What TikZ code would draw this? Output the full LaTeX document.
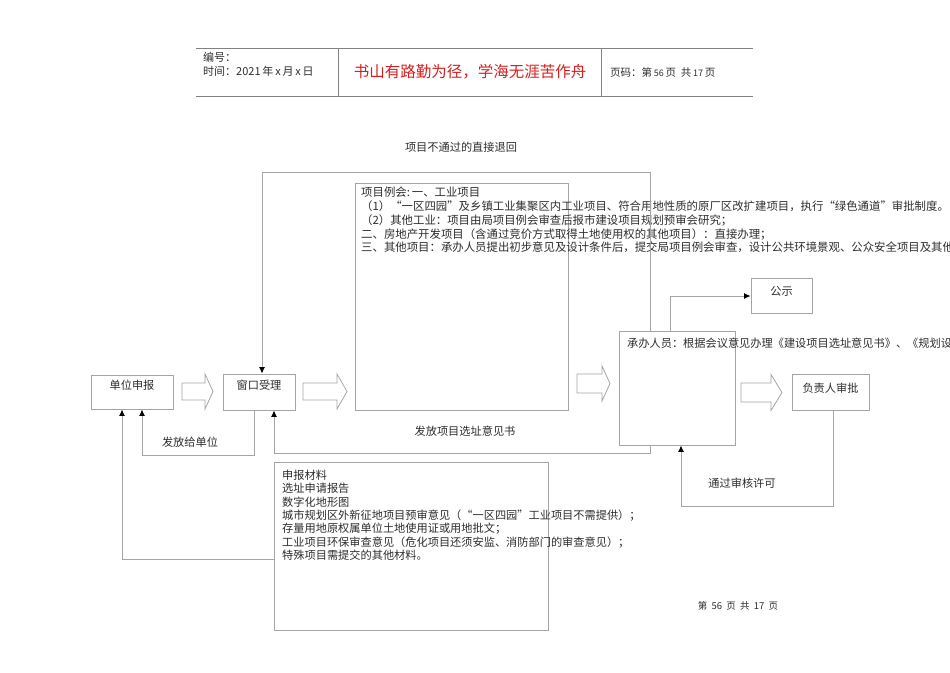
\documentclass[tikz,border=0pt]{standalone}
\usepackage{fontspec}
\setmainfont{Noto Sans CJK SC}
\usetikzlibrary{arrows.meta}
\definecolor{boxgray}{RGB}{165,165,165}
\definecolor{hdrgray}{RGB}{130,130,130}
\definecolor{txtgray}{RGB}{45,45,45}
\definecolor{mottored}{RGB}{215,30,30}
\tikzset{
  box/.style={draw=boxgray, fill=white, line width=0.9pt, inner sep=0pt},
  txt/.style={text=txtgray, font=\fontsize{11.2}{13.3}\selectfont, inner sep=0pt},
  para/.style={txt, anchor=north west, align=left},
  link/.style={draw=boxgray, line width=0.9pt, -{Latex[length=6.5pt,width=6pt,color=black]}},
  hollow/.style={draw=boxgray, fill=white, line width=0.8pt},
  hdr/.style={draw=hdrgray, line width=0.9pt}
}
\begin{document}
\begin{tikzpicture}[x=1pt, y=-1pt]
    \useasboundingbox (0,0) rectangle (950,672);
    \clip (0,0) rectangle (950,672);
    % Header
    \draw[hdr] (196,48) -- (753,48);
    \draw[hdr] (196,96) -- (753,96);
    \draw[hdr] (338,48) -- (338,96);
    \draw[hdr] (601,48) -- (601,96);
    \node[txt, anchor=west, font=\fontsize{11}{13}\selectfont] (num) at (203,57) {编号：};
    \node[txt, anchor=west, font=\fontsize{11}{13}\selectfont] (date) at (203,71) {时间：2021\,年\,x\,月\,x\,日};
    \node[txt, text=mottored, font=\fontsize{15.5}{18}\selectfont] (motto) at (470,72) {书山有路勤为径，学海无涯苦作舟};
    \node[txt, anchor=west, font=\fontsize{10.5}{13}\selectfont] (page) at (610,72) {页码：第\,{\small 56}\,页\ \ 共\,{\small 17}\,页};
    % Boxes
    \node[box, minimum width=82pt, minimum height=34pt] (sb) at (132,392) {};
    \node[box, minimum width=72pt, minimum height=36pt] (ck) at (259,392) {};
    \node[box, minimum width=213pt, minimum height=227pt] (lh) at (461.5,296.5) {};
    \node[box, minimum width=116pt, minimum height=114pt] (cb) at (677,388) {};
    \node[box, minimum width=61pt, minimum height=35pt] (gs) at (781.5,295.5) {};
    \node[box, minimum width=77pt, minimum height=36pt] (fz) at (830.5,392) {};
    \node[box, minimum width=274pt, minimum height=168pt] (cl) at (411,546) {};
    % Box texts
    \node[txt] (sb-t) at (132,385) {单位申报};
    \node[txt] (ck-t) at (259,385) {窗口受理};
    \node[txt] (gs-t) at (781.5,291) {公示};
    \node[txt] (fz-t) at (830.5,388) {负责人审批};
    \node[para, font=\fontsize{11.4}{13.8}\selectfont] (lh-t) at (361,187) {项目例会:\,一、工业项目\\
      （1）“一区四园”及乡镇工业集聚区内工业项目、符合用地性质的原厂区改扩建项目，执行“绿色通道”审批制度。\\
      （2）其他工业：项目由局项目例会审查后报市建设项目规划预审会研究；\\
      二、房地产开发项目（含通过竞价方式取得土地使用权的其他项目）：直接办理；\\
      三、其他项目：承办人员提出初步意见及设计条件后，提交局项目例会审查，设计公共环境景观、公众安全项目及其他};
    \node[para, anchor=west] (cb-t) at (627,343) {承办人员：根据会议意见办理《建设项目选址意见书》、《规划设};
    \node[para] (cl-t) at (282,470) {申报材料\\
      选址申请报告\\
      数字化地形图\\
      城市规划区外新征地项目预审意见（“一区四园”工业项目不需提供）；\\
      存量用地原权属单位土地使用证或用地批文；\\
      工业项目环保审查意见（危化项目还须安监、消防部门的审查意见）；\\
      特殊项目需提交的其他材料。};
    % Hollow arrows
    \foreach \xa/\xm/\xb/\yc/\bh/\hh in {182/205/213/391.5/8.5/17.5, 303/337/347/391.5/8.5/17.5,
        577/602/610/383.5/9.5/17.5, 741/771/782/392.5/9.5/18}
      \draw[hollow] (\xa,\yc-\bh) -- (\xm,\yc-\bh) -- (\xm,\yc-\hh) -- (\xb,\yc)
        -- (\xm,\yc+\hh) -- (\xm,\yc+\bh) -- (\xa,\yc+\bh) -- cycle;
    % Edges
    \draw[link] (cb.north -| 650,0) -- (650,172) -- (262,172) -- (ck.north -| 262,0);
    \draw[link] (cb.south -| 650,0) -- (650,453) -- (274,453) -- (ck.south -| 274,0);
    \draw[link] (ck.south -| 254,0) -- (254,455) -- (142,455) -- (sb.south -| 142,0);
    \draw[link] (cl.west |- 0,559) -- (122,559) -- (sb.south -| 122,0);
    \draw[link] (cb.north -| 670,0) -- (670,296) -- (gs.west |- 0,296);
    \draw[link] (fz.south -| 833,0) -- (833,506) -- (681,506) -- (cb.south -| 681,0);
    % Edge labels
    \node[txt] (back) at (461,147) {项目不通过的直接退回};
    \node[txt] (issue) at (465,431) {发放项目选址意见书};
    \node[txt] (tounit) at (190,442) {发放给单位};
    \node[txt] (pass) at (742,483) {通过审核许可};
    % Footer
    \node[txt, font=\fontsize{9.5}{11}\selectfont] (foot) at (738,606) {第\ \ 56\ \ 页\ \ 共\ \ 17\ \ 页};
\end{tikzpicture}
\end{document}
